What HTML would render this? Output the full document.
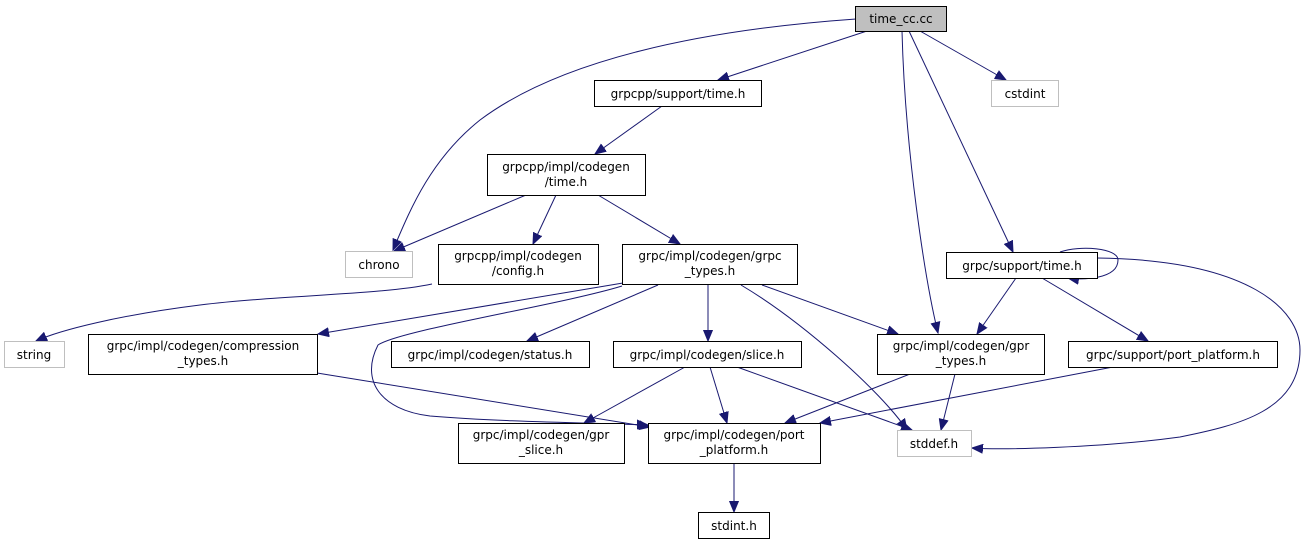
<!DOCTYPE html>
<html><head><meta charset="utf-8"><style>
html,body{margin:0;padding:0;background:#fff;}
svg{display:block;}
text{font-family:"DejaVu Sans",sans-serif;font-size:12px;fill:#000;text-anchor:middle;}
.n{fill:#fff;stroke:#000;stroke-width:1;}
.g{fill:#fff;stroke:#bfbfbf;stroke-width:1;}
.e{fill:none;stroke:#191970;stroke-width:1;marker-end:url(#a);}
</style></head><body>
<svg width="1308" height="544" viewBox="0 0 1308 544" xmlns="http://www.w3.org/2000/svg">
<defs><marker id="a" markerUnits="userSpaceOnUse" markerWidth="12" markerHeight="10" refX="11" refY="5" orient="auto"><path d="M0,0.5 L11,5 L0,9.5 z" fill="#191970" stroke="#191970"/></marker></defs>
<path class="e" d="M856,19 C700,30 560,60 480,120 C430,160 410,210 393,250"/>
<path class="e" d="M867,31 L718,80"/>
<path class="e" d="M902,31 C905,150 925,280 938,333"/>
<path class="e" d="M909,31 L1013,252"/>
<path class="e" d="M920,31 L1006,80"/>
<path class="e" d="M662,106 L595,154"/>
<path class="e" d="M526,195 L394,251"/>
<path class="e" d="M556,195 L533,244"/>
<path class="e" d="M598,195 L680,244"/>
<path class="e" d="M432,284 C380,295 280,295 200,305 C120,315 60,330 36,341"/>
<path class="e" d="M623,283 L318,334"/>
<path class="e" d="M622,286 C560,305 400,330 378,345 C360,380 380,410 430,416 C500,422 600,423 648,425"/>
<path class="e" d="M658,285 L527,341"/>
<path class="e" d="M708,285 L708,341"/>
<path class="e" d="M741,285 C800,320 880,390 907,430"/>
<path class="e" d="M762,285 L898,334"/>
<path class="e" d="M1060,252 C1080,245 1118,248 1118,260 C1118,280 1080,280 1068,278"/>
<path class="e" d="M1016,278 L977,334"/>
<path class="e" d="M1042,278 L1148,341"/>
<path class="e" d="M1097,258 C1250,260 1300,310 1300,350 C1300,410 1240,425 1180,437 C1100,448 1000,450 972,448"/>
<path class="e" d="M317,373 L650,427"/>
<path class="e" d="M685,367 L584,423"/>
<path class="e" d="M710,367 L727,423"/>
<path class="e" d="M737,367 L912,430"/>
<path class="e" d="M910,374 L785,423"/>
<path class="e" d="M955,374 L941,430"/>
<path class="e" d="M1113,367 L820,423"/>
<path class="e" d="M734,463 L734,512"/>
<rect x="855.5" y="6.5" width="91" height="25" fill="#bfbfbf" stroke="#000"/><text x="901" y="23">time_cc.cc</text>
<rect class="n" x="594.5" y="80.5" width="167" height="26"/><text x="678" y="98">grpcpp/support/time.h</text>
<rect class="g" x="991.5" y="80.5" width="67" height="26"/><text x="1025" y="98">cstdint</text>
<rect class="n" x="487.5" y="154.5" width="158" height="41"/><text x="566" y="171">grpcpp/impl/codegen</text><text x="566" y="186">/time.h</text>
<rect class="g" x="345.5" y="251.5" width="67" height="26"/><text x="379" y="269">chrono</text>
<rect class="n" x="438.5" y="244.5" width="160" height="40"/><text x="518" y="260">grpcpp/impl/codegen</text><text x="518" y="275">/config.h</text>
<rect class="n" x="622.5" y="244.5" width="175" height="40"/><text x="710" y="260">grpc/impl/codegen/grpc</text><text x="710" y="275">_types.h</text>
<rect class="n" x="946.5" y="252.5" width="151" height="26"/><text x="1022" y="270">grpc/support/time.h</text>
<rect class="g" x="4.5" y="341.5" width="60" height="26"/><text x="34" y="359">string</text>
<rect class="n" x="88.5" y="334.5" width="229" height="40"/><text x="203" y="350">grpc/impl/codegen/compression</text><text x="203" y="365">_types.h</text>
<rect class="n" x="391.5" y="341.5" width="198" height="26"/><text x="490" y="359">grpc/impl/codegen/status.h</text>
<rect class="n" x="613.5" y="341.5" width="188" height="26"/><text x="707" y="359">grpc/impl/codegen/slice.h</text>
<rect class="n" x="877.5" y="334.5" width="167" height="40"/><text x="961" y="350">grpc/impl/codegen/gpr</text><text x="961" y="365">_types.h</text>
<rect class="n" x="1068.5" y="341.5" width="209" height="26"/><text x="1173" y="359">grpc/support/port_platform.h</text>
<rect class="n" x="458.5" y="423.5" width="166" height="40"/><text x="541" y="439">grpc/impl/codegen/gpr</text><text x="541" y="454">_slice.h</text>
<rect class="n" x="648.5" y="423.5" width="172" height="40"/><text x="734" y="439">grpc/impl/codegen/port</text><text x="734" y="454">_platform.h</text>
<rect class="g" x="897.5" y="430.5" width="74" height="26"/><text x="934" y="448">stddef.h</text>
<rect class="n" x="698.5" y="512.5" width="71" height="26"/><text x="734" y="530">stdint.h</text>
</svg>
</body></html>
